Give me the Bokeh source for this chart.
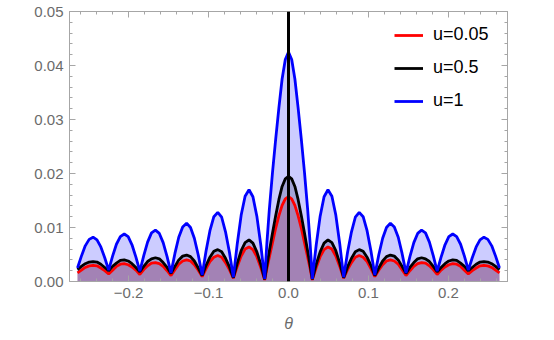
import numpy as np
from bokeh.plotting import figure
from bokeh.models import (LinearAxis, SingleIntervalTicker, FixedTicker,
                          PrintfTickFormatter, CustomJSTickFormatter, Span,
                          Legend, LegendItem, ColumnDataSource, Range1d)
from bokeh.embed import file_html
from bokeh.resources import INLINE

# ---- data (theta, intensity) ----
theta = [
    -0.2640, -0.2591, -0.2543, -0.2494, -0.2445, -0.2396, -0.2348, -0.2299,
    -0.2250, -0.2201, -0.2153, -0.2104, -0.2055, -0.2006, -0.1958, -0.1909,
    -0.1860, -0.1811, -0.1763, -0.1714, -0.1665, -0.1616, -0.1568, -0.1519,
    -0.1470, -0.1421, -0.1373, -0.1324, -0.1275, -0.1226, -0.1178, -0.1129,
    -0.1080, -0.1031, -0.0983, -0.0934, -0.0885, -0.0836, -0.0788, -0.0739,
    -0.0690, -0.0641, -0.0592, -0.0543, -0.0494, -0.0445, -0.0396, -0.0347,
    -0.0298, -0.0270, -0.0240, -0.0200, -0.0160, -0.0120, -0.0080, -0.0040,
    0.0000,
    0.0040, 0.0080, 0.0120, 0.0160, 0.0200, 0.0240, 0.0270, 0.0298,
    0.0347, 0.0396, 0.0445, 0.0494, 0.0543, 0.0592, 0.0641, 0.0690,
    0.0739, 0.0788, 0.0836, 0.0885, 0.0934, 0.0983, 0.1031, 0.1080,
    0.1129, 0.1178, 0.1226, 0.1275, 0.1324, 0.1373, 0.1421, 0.1470,
    0.1519, 0.1568, 0.1616, 0.1665, 0.1714, 0.1763, 0.1811, 0.1860,
    0.1909, 0.1958, 0.2006, 0.2055, 0.2104, 0.2153, 0.2201, 0.2250,
    0.2299, 0.2348, 0.2396, 0.2445, 0.2494, 0.2543, 0.2591, 0.2640,
]

u_005 = [
    0.0016, 0.0021, 0.0026, 0.0029, 0.0030, 0.0029, 0.0025, 0.0020,
    0.0014, 0.0021, 0.0028, 0.0032, 0.0033, 0.0031, 0.0027, 0.0021,
    0.0013, 0.0022, 0.0029, 0.0034, 0.0035, 0.0033, 0.0028, 0.0020,
    0.0011, 0.0022, 0.0032, 0.0038, 0.0040, 0.0038, 0.0031, 0.0021,
    0.0009, 0.0024, 0.0037, 0.0045, 0.0048, 0.0045, 0.0035, 0.0022,
    0.0006, 0.0028, 0.0047, 0.0060, 0.0064, 0.0059, 0.0046, 0.0026,
    0.0003, 0.0024, 0.0045, 0.0072, 0.0099, 0.0122, 0.0141, 0.0153,
    0.0157,
    0.0153, 0.0141, 0.0122, 0.0099, 0.0072, 0.0045, 0.0024, 0.0003,
    0.0026, 0.0046, 0.0059, 0.0064, 0.0060, 0.0047, 0.0028, 0.0006,
    0.0022, 0.0035, 0.0045, 0.0048, 0.0045, 0.0037, 0.0024, 0.0009,
    0.0021, 0.0031, 0.0038, 0.0040, 0.0038, 0.0032, 0.0022, 0.0011,
    0.0020, 0.0028, 0.0033, 0.0035, 0.0034, 0.0029, 0.0022, 0.0013,
    0.0021, 0.0027, 0.0031, 0.0033, 0.0032, 0.0028, 0.0021, 0.0014,
    0.0020, 0.0025, 0.0029, 0.0030, 0.0029, 0.0026, 0.0021, 0.0016,
]

u_05 = [
    0.0022, 0.0028, 0.0033, 0.0036, 0.0037, 0.0036, 0.0032, 0.0026,
    0.0020, 0.0028, 0.0034, 0.0039, 0.0040, 0.0038, 0.0033, 0.0026,
    0.0018, 0.0028, 0.0037, 0.0042, 0.0044, 0.0042, 0.0035, 0.0026,
    0.0015, 0.0028, 0.0040, 0.0047, 0.0049, 0.0046, 0.0038, 0.0025,
    0.0011, 0.0030, 0.0045, 0.0056, 0.0059, 0.0055, 0.0043, 0.0027,
    0.0007, 0.0034, 0.0057, 0.0072, 0.0077, 0.0071, 0.0055, 0.0032,
    0.0004, 0.0030, 0.0056, 0.0090, 0.0122, 0.0152, 0.0176, 0.0190,
    0.0195,
    0.0190, 0.0176, 0.0152, 0.0122, 0.0090, 0.0056, 0.0030, 0.0004,
    0.0032, 0.0055, 0.0071, 0.0077, 0.0072, 0.0057, 0.0034, 0.0007,
    0.0027, 0.0043, 0.0055, 0.0059, 0.0056, 0.0045, 0.0030, 0.0011,
    0.0025, 0.0038, 0.0046, 0.0049, 0.0047, 0.0040, 0.0028, 0.0015,
    0.0026, 0.0035, 0.0042, 0.0044, 0.0042, 0.0037, 0.0028, 0.0018,
    0.0026, 0.0033, 0.0038, 0.0040, 0.0039, 0.0034, 0.0028, 0.0020,
    0.0026, 0.0032, 0.0036, 0.0037, 0.0036, 0.0033, 0.0028, 0.0022,
]

u_1 = [
    0.0025, 0.0047, 0.0066, 0.0078, 0.0082, 0.0077, 0.0064, 0.0044,
    0.0021, 0.0047, 0.0069, 0.0083, 0.0088, 0.0083, 0.0068, 0.0045,
    0.0019, 0.0048, 0.0073, 0.0090, 0.0095, 0.0089, 0.0072, 0.0046,
    0.0016, 0.0052, 0.0082, 0.0101, 0.0108, 0.0100, 0.0080, 0.0049,
    0.0012, 0.0057, 0.0094, 0.0120, 0.0128, 0.0119, 0.0092, 0.0054,
    0.0008, 0.0070, 0.0123, 0.0158, 0.0170, 0.0157, 0.0121, 0.0068,
    0.0005, 0.0072, 0.0133, 0.0202, 0.0264, 0.0322, 0.0375, 0.0411,
    0.0425,
    0.0411, 0.0375, 0.0322, 0.0264, 0.0202, 0.0133, 0.0072, 0.0005,
    0.0068, 0.0121, 0.0157, 0.0170, 0.0158, 0.0123, 0.0070, 0.0008,
    0.0054, 0.0092, 0.0119, 0.0128, 0.0120, 0.0094, 0.0057, 0.0012,
    0.0049, 0.0080, 0.0100, 0.0108, 0.0101, 0.0082, 0.0052, 0.0016,
    0.0046, 0.0072, 0.0089, 0.0095, 0.0090, 0.0073, 0.0048, 0.0019,
    0.0045, 0.0068, 0.0083, 0.0088, 0.0083, 0.0069, 0.0047, 0.0021,
    0.0044, 0.0064, 0.0077, 0.0082, 0.0078, 0.0066, 0.0047, 0.0025,
]

series_labels = ["u=0.05", "u=0.5", "u=1"]
series_colors = ["#ff0000", "#000000", "#0000ff"]
x_label = "θ"

src = ColumnDataSource(dict(theta=theta, u_005=u_005, u_05=u_05, u_1=u_1))
cols = ["u_005", "u_05", "u_1"]

FONT = "Liberation Sans"
FRAME = "#a6a6a6"
LABEL = "#6b6b6b"

p = figure(width=538, height=338, output_backend="svg", toolbar_location=None,
           x_range=Range1d(-0.274, 0.274), y_range=Range1d(0, 0.05),
           min_border_left=69, min_border_right=31, min_border_top=11,
           min_border_bottom=57, background_fill_color="white",
           border_fill_color="white")
p.xgrid.visible = False
p.ygrid.visible = False
p.outline_line_color = None

# fills (drawn first, translucent)
for c, col in zip(cols, series_colors):
    p.varea(x="theta", y1=0, y2=c, source=src, fill_color=col, fill_alpha=0.2)

renderers = []
for c, col in zip(cols, series_colors):
    r = p.line(x="theta", y=c, source=src, line_color=col, line_width=2.8)
    renderers.append(r)

p.add_layout(Span(location=0, dimension="height", line_color="black",
                  line_width=3))

xfmt = CustomJSTickFormatter(code="return tick.toFixed(1).replace('-', '\u2212');")
yfmt = PrintfTickFormatter(format="%.2f")

def style(ax, labels=True):
    ax.axis_line_color = FRAME
    ax.major_tick_line_color = FRAME
    ax.minor_tick_line_color = FRAME
    ax.major_tick_in = 6
    ax.major_tick_out = 0
    ax.minor_tick_in = 3
    ax.minor_tick_out = 0
    ax.major_label_text_color = LABEL
    ax.major_label_text_font = FONT
    ax.major_label_text_font_size = "15px"
    ax.major_label_standoff = 6 if labels else 0

xa = p.xaxis[0]
xa.ticker = SingleIntervalTicker(interval=0.1, num_minor_ticks=5)
xa.formatter = xfmt
style(xa)
xa.axis_label = x_label
xa.axis_label_text_font = FONT
xa.axis_label_text_font_style = "italic"
xa.axis_label_text_font_size = "16px"
xa.axis_label_text_color = LABEL
xa.axis_label_standoff = 14

ya = p.yaxis[0]
ya.ticker = SingleIntervalTicker(interval=0.01, num_minor_ticks=5)
ya.formatter = yfmt
style(ya)

# frame ticks on top / right (no labels): long ticks at major positions,
# short ticks at minor positions, both as label-less "minor" ticks
x_major_pos = list(np.round(np.arange(-0.2, 0.2001, 0.1), 4))
x_minor_pos = list(np.round(np.arange(-0.26, 0.2601, 0.02), 4))
y_major_pos = list(np.round(np.arange(0.0, 0.0501, 0.01), 4))
y_minor_pos = list(np.round(np.arange(0.0, 0.0501, 0.002), 4))

def frame_axis(minor_pos, length):
    ax = LinearAxis(ticker=FixedTicker(ticks=[], minor_ticks=minor_pos))
    ax.axis_line_color = FRAME
    ax.minor_tick_line_color = FRAME
    ax.minor_tick_in = length
    ax.minor_tick_out = 0
    ax.major_tick_in = 0
    ax.major_tick_out = 0
    ax.major_label_standoff = 0
    return ax

p.add_layout(frame_axis(x_minor_pos, 3), "above")
p.add_layout(frame_axis(x_major_pos, 6), "above")
p.add_layout(frame_axis(y_minor_pos, 3), "right")
p.add_layout(frame_axis(y_major_pos, 6), "right")

legend = Legend(items=[LegendItem(label=l, renderers=[r])
                       for l, r in zip(series_labels, renderers)],
                location=(325, 170), padding=0, margin=0, spacing=12,
                glyph_width=29, glyph_height=20, label_height=20,
                label_standoff=10, label_text_font=FONT,
                label_text_font_size="18px", label_text_color="black",
                border_line_alpha=0, background_fill_alpha=0)
p.add_layout(legend)

open("out.html", "w").write(file_html(p, INLINE))
